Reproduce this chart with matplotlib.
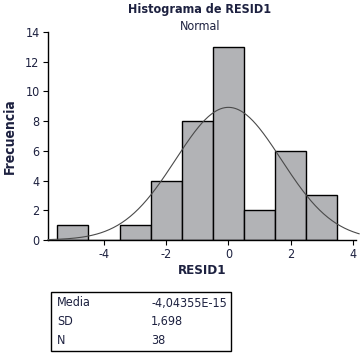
#!/usr/bin/env python3
import matplotlib

matplotlib.use("Agg")

import numpy as np
import matplotlib.pyplot as plt
from matplotlib.patches import Rectangle

plt.rcParams["font.family"] = ["DejaVu Sans"]
plt.rcParams["font.stretch"] = "condensed"

TEXT = "#1d2140"

# bin centres (width 1) and counts
CENTERS = [-5, -4, -3, -2, -1, 0, 1, 2, 3]
COUNTS = [1, 0, 1, 4, 8, 13, 2, 6, 3]

MEAN = -4.04355e-15
SD = 1.698
N = 38

STAT_LABELS = ["Media", "SD", "N"]
STAT_VALUES = ["-4,04355E-15", "1,698", "38"]

W, H = 364, 354


def draw() -> None:
    fig = plt.figure(figsize=(W / 100, H / 100), dpi=100)
    ax = fig.add_axes([48 / W, 1 - 240 / H, 308 / W, 208 / H])

    ax.bar(CENTERS, COUNTS, width=1.0, color="#b2b3b6", edgecolor="black",
           linewidth=1.0, zorder=2)

    # fitted normal curve scaled to counts (bin width 1)
    xs = np.linspace(-5.8, 4.2, 300)
    ys = N * 1.0 * np.exp(-0.5 * ((xs - MEAN) / SD) ** 2) / (SD * np.sqrt(2 * np.pi))
    ax.plot(xs, ys, color="#4a4a4a", linewidth=0.8, zorder=3, clip_on=False)

    ax.set_xlim(-5.8, 4.1)
    ax.set_ylim(0, 14)
    ax.set_xticks([-4, -2, 0, 2, 4])
    ax.set_xticklabels(["-4", "-2", "0", "2", "4"])
    ax.set_yticks(range(0, 15, 2))

    for side in ("top", "right"):
        ax.spines[side].set_visible(False)
    for side in ("left", "bottom"):
        ax.spines[side].set_linewidth(1.0)
    ax.tick_params(axis="both", direction="out", length=3.5, width=0.8,
                   pad=2.5, labelsize=9, labelcolor=TEXT)

    ax.set_xlabel("RESID1", fontsize=9.5, fontweight="bold", color=TEXT, labelpad=2)
    ax.set_ylabel("Frecuencia", fontsize=10, fontweight="bold", color=TEXT, labelpad=6)

    fig.text(200 / W, 1 - 9 / H, "Histograma de RESID1", ha="center", va="center",
             fontsize=9, fontweight="bold", color=TEXT)
    fig.text(200 / W, 1 - 27 / H, "Normal", ha="center", va="center",
             fontsize=9, color=TEXT)

    # stats box
    fig.patches.append(Rectangle((50.5 / W, 1 - 351 / H), 180 / W, 59 / H,
                                 transform=fig.transFigure, fill=False,
                                 edgecolor="black", linewidth=1.0))
    rows_y = [303, 321.5, 340]
    for lab, val, y in zip(STAT_LABELS, STAT_VALUES, rows_y):
        fig.text(57 / W, 1 - y / H, lab, ha="left", va="center", fontsize=9, color=TEXT)
        fig.text(151 / W, 1 - y / H, val, ha="left", va="center", fontsize=9, color=TEXT)

    fig.savefig("out.png", dpi=100)
    plt.close(fig)


if __name__ == "__main__":
    draw()
